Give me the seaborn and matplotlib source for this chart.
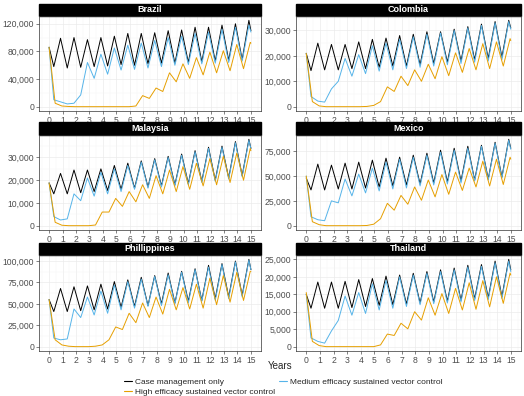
import matplotlib
matplotlib.use("Agg")
import matplotlib.pyplot as plt
from matplotlib.patches import Rectangle
from matplotlib.ticker import FuncFormatter, MultipleLocator
import pandas as pd
import seaborn as sns

# Sampling times (years): start, then trough/peak each season, then end
years_case = [0.0] + [k + d for k in range(15) for d in (0.35, 0.85)] + [15.0]
years_high = [0.0] + [k + d for k in range(15) for d in (0.45, 0.95)] + [15.0]

countries = ["Brazil", "Colombia", "Malaysia", "Mexico", "Phillippines", "Thailand"]
scenarios = ["Case management only",
             "Medium efficacy sustained vector control",
             "High efficacy sustained vector control"]

# Cases (thousands): start, (trough, peak) x 15, end
brazil_case = [86, 58, 99, 56, 100, 57, 97, 58, 100, 59, 102, 61, 106, 60, 106, 62, 107,
               63, 110, 63, 111, 64, 115, 65, 115, 66, 118, 67, 120, 68, 125, 110]
brazil_medium = [86, 10, 7, 4, 5, 17, 64, 41, 76, 47, 85, 53, 89, 54, 92, 56, 96,
                 58, 100, 60, 102, 61, 106, 62, 108, 63, 112, 64, 115, 66, 118, 108]
brazil_high = [86, 5, 1, 0.3, 0, 0, 0, 0, 0, 0, 0, 0, 0, 1, 16, 12, 27,
               22, 49, 36, 62, 41, 71, 46, 79, 49, 81, 52, 90, 55, 93, 92]

colombia_case = [21, 14.2, 25, 14.5, 24.5, 14.5, 24.5, 15, 25.5, 15, 26.5, 15.5, 27, 16, 28, 16, 28.5,
                 16.5, 29.5, 17, 29.5, 17.5, 30.5, 18, 31.5, 18.5, 32.5, 19, 33.5, 19.5, 34, 31]
colombia_medium = [21, 4, 2.2, 1.8, 7, 10, 19, 12, 20.5, 13, 24, 14, 25, 14.5, 26.5, 15, 27.5,
                   15.5, 28.5, 16, 29, 16.5, 30, 17, 31, 17.5, 32, 18, 33, 18.5, 33.5, 30.5]
colombia_high = [21, 2, 0.3, 0, 0, 0, 0, 0, 0, 0.1, 0.5, 2, 7.8, 6, 12, 8.3, 14.5,
                 10, 16.7, 11, 19.7, 12.2, 21.2, 13.5, 22.9, 14.5, 24.8, 15, 25.5, 16, 26.8, 26]

malaysia_case = [18.8, 14, 23, 14, 24.5, 14.5, 24.5, 15, 25, 15.5, 26.5, 16, 27.5, 16.5, 28.5, 17, 29.5,
                 17.5, 30.5, 18, 31.5, 18.5, 33, 19.5, 34.5, 20, 35, 21, 37, 22, 38, 34]
malaysia_medium = [18.8, 4, 2.5, 3, 14, 11, 21, 13, 23.5, 14, 25, 15, 26.5, 16, 28, 16.5, 29,
                   17, 30, 17.5, 31, 18, 32.5, 19, 34, 19.5, 34.5, 20.5, 36.5, 21.5, 37.5, 34]
malaysia_high = [18.8, 1.5, 0.2, 0, 0, 0, 0, 0.3, 6, 6, 12, 8.5, 15, 10.5, 18, 12, 22,
                 14, 24.5, 15, 26, 16, 27.5, 17.5, 29.5, 18, 30.5, 19, 32, 20, 34, 33]

mexico_case = [48, 36, 62, 36, 61, 37, 63, 37, 64, 38, 66, 39, 68, 40, 69, 41, 71,
               42, 73, 43, 76, 44, 78, 45, 80, 46, 81, 47, 84, 49, 87, 78]
mexico_medium = [50, 9, 6, 5, 25, 23, 47, 30, 52, 33, 58, 35, 64, 37, 67, 38, 69,
                 40, 71, 41, 74, 42, 76, 43, 78, 45, 80, 46, 83, 48, 86, 77]
mexico_high = [50, 4, 1, 0, 0, 0, 0, 0, 0, 0.2, 1.5, 7, 22.5, 15.6, 30.5, 21.6, 39,
               25.6, 46, 29, 51.5, 31.6, 54, 35.5, 58, 39, 65, 40, 67, 41.5, 69, 67]

philippines_case = [55, 41, 68, 41, 70, 42, 71, 43, 73, 44, 76, 46, 78, 47, 81, 48, 83,
                    50, 86, 51, 88, 53, 91, 54, 95, 56, 97, 58, 100, 60, 102, 90]
philippines_medium = [55, 10, 8, 9, 44, 34, 58, 37, 65, 39, 72, 43, 76, 45, 79, 47, 82,
                      48, 84, 50, 87, 51, 90, 53, 93, 54, 96, 56, 99, 58, 101, 90]
philippines_high = [55, 8, 2, 0.5, 0, 0, 0, 0.5, 2, 8, 23, 20, 39, 28, 51, 34, 58,
                    38, 67, 43, 69, 44, 73, 45, 80, 49, 83, 52, 87, 54, 88, 88]

thailand_case = [15, 11, 18.5, 11, 18.5, 11, 18.7, 11.2, 19.2, 11.5, 19.5, 11.8, 20.2, 12, 20.5, 12.2, 21,
                 12.5, 21.5, 12.8, 22, 13, 22.5, 13.3, 23.3, 13.7, 23.5, 14, 24.5, 14.3, 25, 22]
thailand_medium = [15, 2.5, 1.5, 1, 4.5, 7.5, 14.5, 9, 15.5, 9.5, 18, 10.5, 19, 11, 20, 11.5, 20.5,
                   12, 21, 12.3, 21.5, 12.5, 22, 12.8, 22.8, 13.2, 23, 13.5, 24, 13.8, 24.5, 21.5]
thailand_high = [15.5, 1.5, 0.3, 0, 0, 0, 0, 0, 0, 0, 0, 0.5, 3.6, 3.2, 6.7, 5.1, 10,
                 7.6, 14, 9, 15.2, 9.5, 16.7, 10.5, 18.3, 10.7, 18.9, 11.4, 20, 12.4, 21.1, 20.5]

y_ticks = {
    "Brazil": [0, 40000, 80000, 120000],
    "Colombia": [0, 10000, 20000, 30000],
    "Malaysia": [0, 10000, 20000, 30000],
    "Mexico": [0, 25000, 50000, 75000],
    "Phillippines": [0, 25000, 50000, 75000, 100000],
    "Thailand": [0, 5000, 10000, 15000, 20000, 25000],
}

series = {
    "Brazil": (brazil_case, brazil_medium, brazil_high),
    "Colombia": (colombia_case, colombia_medium, colombia_high),
    "Malaysia": (malaysia_case, malaysia_medium, malaysia_high),
    "Mexico": (mexico_case, mexico_medium, mexico_high),
    "Phillippines": (philippines_case, philippines_medium, philippines_high),
    "Thailand": (thailand_case, thailand_medium, thailand_high),
}

rows = []
for country, (case, medium, high) in series.items():
    for years, vals, scen in ((years_case, case, scenarios[0]),
                              (years_case, medium, scenarios[1]),
                              (years_high, high, scenarios[2])):
        for t, v in zip(years, vals):
            rows.append({"country": country, "scenario": scen, "year": t, "cases": v * 1000})
df = pd.DataFrame(rows)

palette = {scenarios[0]: "#000000", scenarios[1]: "#56B4E9", scenarios[2]: "#E69F00"}

sns.set_style("white")
plt.rcParams["font.family"] = ["Liberation Sans", "DejaVu Sans"]

W, H = 524, 396
fig = plt.figure(figsize=(W / 100, H / 100), dpi=100)

# panel boxes in pixels: (left, right) and (top, bottom)
cols = [(39, 261), (296, 521)]
rows_px = [(16, 111), (135, 230), (255, 351)]
strip_h = 12.5

for i, country in enumerate(countries):
    r, c = divmod(i, 2)
    x0, x1 = cols[c]
    y0, y1 = rows_px[r]
    ax = fig.add_axes([x0 / W, 1 - y1 / H, (x1 - x0) / W, (y1 - y0) / H])
    sub = df[df["country"] == country]
    sns.lineplot(data=sub, x="year", y="cases", hue="scenario", hue_order=scenarios,
                 palette=palette, linewidth=0.7, ax=ax, legend=False, zorder=3)
    ax.set_xlim(-0.75, 15.75)
    ymax = sub["cases"].max()
    ax.set_ylim(-0.05 * ymax, 1.05 * ymax)
    ax.set_xticks(range(16))
    ax.xaxis.set_minor_locator(MultipleLocator(0.5))
    yt = y_ticks[country]
    ax.set_yticks(yt)
    ax.yaxis.set_minor_locator(MultipleLocator((yt[1] - yt[0]) / 2))
    ax.yaxis.set_major_formatter(FuncFormatter(lambda v, p: f"{int(v):,}"))
    ax.grid(True, which="major", color="#EBEBEB", linewidth=0.5, zorder=0)
    ax.grid(True, which="minor", color="#F4F4F4", linewidth=0.3, zorder=0)
    ax.set_xlabel("")
    ax.set_ylabel("")
    ax.tick_params(axis="both", which="major", labelsize=6.2, colors="#4D4D4D",
                   length=2, width=0.5, pad=1.5, bottom=True, left=True)
    ax.tick_params(which="minor", length=0)
    for s in ax.spines.values():
        s.set_color("#333333")
        s.set_linewidth(0.5)
    hfrac = strip_h / (y1 - y0)
    ax.add_patch(Rectangle((0, 1), 1, hfrac, transform=ax.transAxes,
                           facecolor="black", edgecolor="black", clip_on=False))
    ax.text(0.5, 1 + hfrac / 2, country, transform=ax.transAxes, ha="center",
            va="center", color="white", fontsize=6.5, fontweight="bold")

fig.text(280 / W, 1 - 366 / H, "Years", ha="center", va="center", fontsize=7)

handles = [plt.Line2D([], [], color=palette[s], linewidth=0.8) for s in scenarios]
order = [0, 2, 1]
fig.legend([handles[i] for i in order], [scenarios[i] for i in order],
           loc="upper left", bbox_to_anchor=(124 / W, 1 - 378 / H), ncol=2,
           frameon=False, fontsize=6, handlelength=0.9, handletextpad=0.4,
           columnspacing=0.5, labelspacing=0.25, borderaxespad=0, borderpad=0)

fig.savefig("out.png", dpi=100)
